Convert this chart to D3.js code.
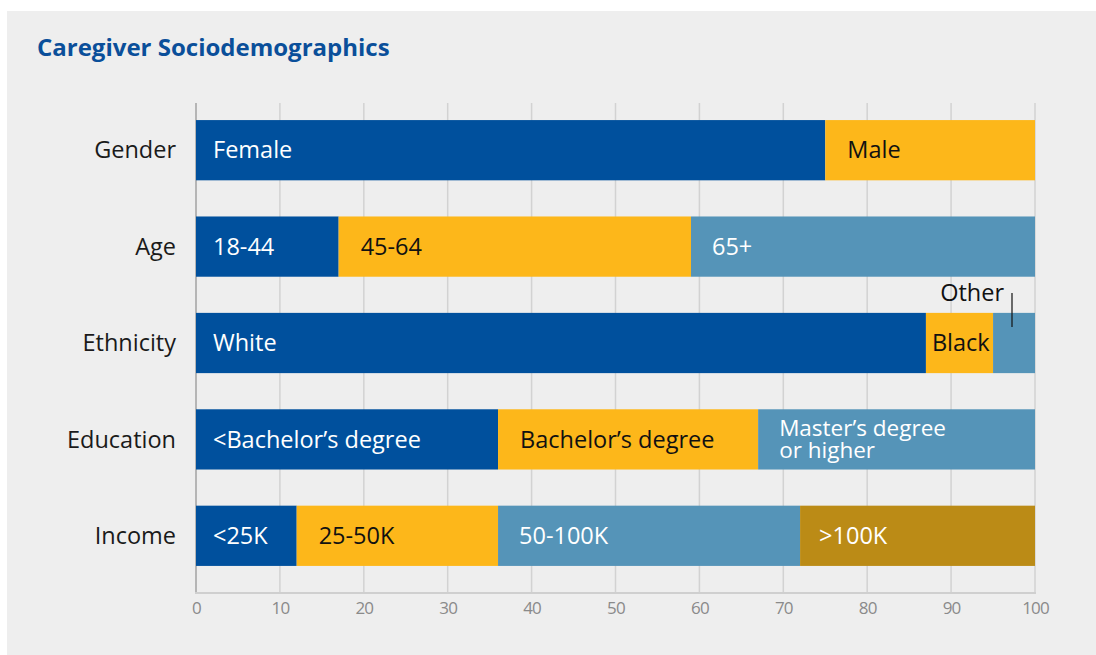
<!DOCTYPE html>
<html lang="en">
<head>
<meta charset="UTF-8">
<title>Caregiver Sociodemographics</title>
<script src="https://d3js.org/d3.v7.min.js"></script>
<style>
  body { margin: 0; background: #fff; }
  svg { display: block; font-family: "Open Sans", sans-serif; }
</style>
</head>
<body>
<svg width="1096" height="655"></svg>
<script>
// data
const categories = ["Gender", "Age", "Ethnicity", "Education", "Income"];
const segLabels = [
  ["Female", "Male"],
  ["18-44", "45-64", "65+"],
  ["White", "Black", "Other"],
  ["<Bachelor\u2019s degree", "Bachelor\u2019s degree", "Master\u2019s degree\nor higher"],
  ["<25K", "25-50K", "50-100K", ">100K"]
];
const segValues = [
  [75, 25],
  [17, 42, 41],
  [87, 8, 5],
  [36, 31, 33],
  [12, 24, 36, 28]
];
const xTicks = [0, 10, 20, 30, 40, 50, 60, 70, 80, 90, 100];

const colors = ["#00509d", "#fdb71a", "#5594b8", "#bb8b16"];
const textColors = ["#fff", "#111", "#fff", "#fff"];
const pads = [17, 22, 21, 19];
const fs = 23.5;

const svg = d3.select("svg");

svg.append("rect").attr("x", 7).attr("y", 11).attr("width", 1089).attr("height", 644).attr("fill", "#eeeeee");

svg.append("text").attr("x", 37).attr("y", 56)
  .attr("font-size", 24).attr("font-weight", 700).attr("fill", "#0a4f9a")
  .text("Caregiver Sociodemographics");

const x = d3.scaleLinear().domain([0, 100]).range([196, 1035]);
const y = d3.scaleBand().domain(categories).range([102, 584]).paddingInner(0.375).paddingOuter(0.1875);

// grid
svg.append("g").selectAll("line").data(xTicks).join("line")
  .attr("x1", d => x(d)).attr("x2", d => x(d))
  .attr("y1", 103).attr("y2", 593)
  .attr("stroke", d => d === 0 ? "#b5b5b5" : "#d2d2d2")
  .attr("stroke-width", d => d === 0 ? 2 : 1.5);

svg.append("line").attr("x1", x(0) - 1).attr("x2", x(100) + 1).attr("y1", 593).attr("y2", 593)
  .attr("stroke", "#cfcfcf").attr("stroke-width", 2);

// axis
const xAxis = svg.append("g").attr("transform", "translate(0,593)")
  .call(d3.axisBottom(x).tickValues(xTicks).tickSize(0).tickPadding(9));
xAxis.select(".domain").remove();
xAxis.selectAll("text").attr("font-size", 17).attr("fill", "#8a8a8a")
  .attr("font-family", "'Open Sans', sans-serif").attr("letter-spacing", -0.8);

// category labels
svg.append("g").selectAll("text").data(categories).join("text")
  .attr("x", 176).attr("y", d => y(d) + y.bandwidth() / 2)
  .attr("dy", "0.35em").attr("text-anchor", "end")
  .attr("font-size", fs).attr("fill", "#1a1a1a").text(d => d);

// segments
categories.forEach((cat, i) => {
  let acc = 0;
  const segs = segValues[i].map((v, j) => {
    const s = { start: acc, end: acc + v, label: segLabels[i][j], j };
    acc += v;
    return s;
  });
  const g = svg.append("g");
  g.selectAll("rect").data(segs).join("rect")
    .attr("x", d => x(d.start)).attr("y", y(cat))
    .attr("width", d => x(d.end) - x(d.start)).attr("height", y.bandwidth())
    .attr("fill", d => colors[d.j]);

  segs.forEach(d => {
    const cy = y(cat) + y.bandwidth() / 2;
    if (cat === "Ethnicity" && d.label === "Other") {
      g.append("text").attr("x", 1004).attr("y", y(cat) - 12)
        .attr("text-anchor", "end").attr("font-size", fs).attr("fill", "#111").text(d.label);
      g.append("line").attr("x1", 1012).attr("x2", 1012)
        .attr("y1", y(cat) - 20).attr("y2", y(cat) + 14)
        .attr("stroke", "#111").attr("stroke-width", 1.2);
      return;
    }
    const pad = d.label === "Black" ? 6 : pads[d.j];
    const lines = d.label.split("\n");
    lines.forEach((ln, k) => {
      g.append("text").attr("x", x(d.start) + pad)
        .attr("y", cy + (k - (lines.length - 1) / 2) * 22)
        .attr("dy", "0.35em")
        .attr("font-size", lines.length > 1 ? 22.5 : fs)
        .attr("fill", textColors[d.j]).text(ln);
    });
  });
});
</script>
</body>
</html>
